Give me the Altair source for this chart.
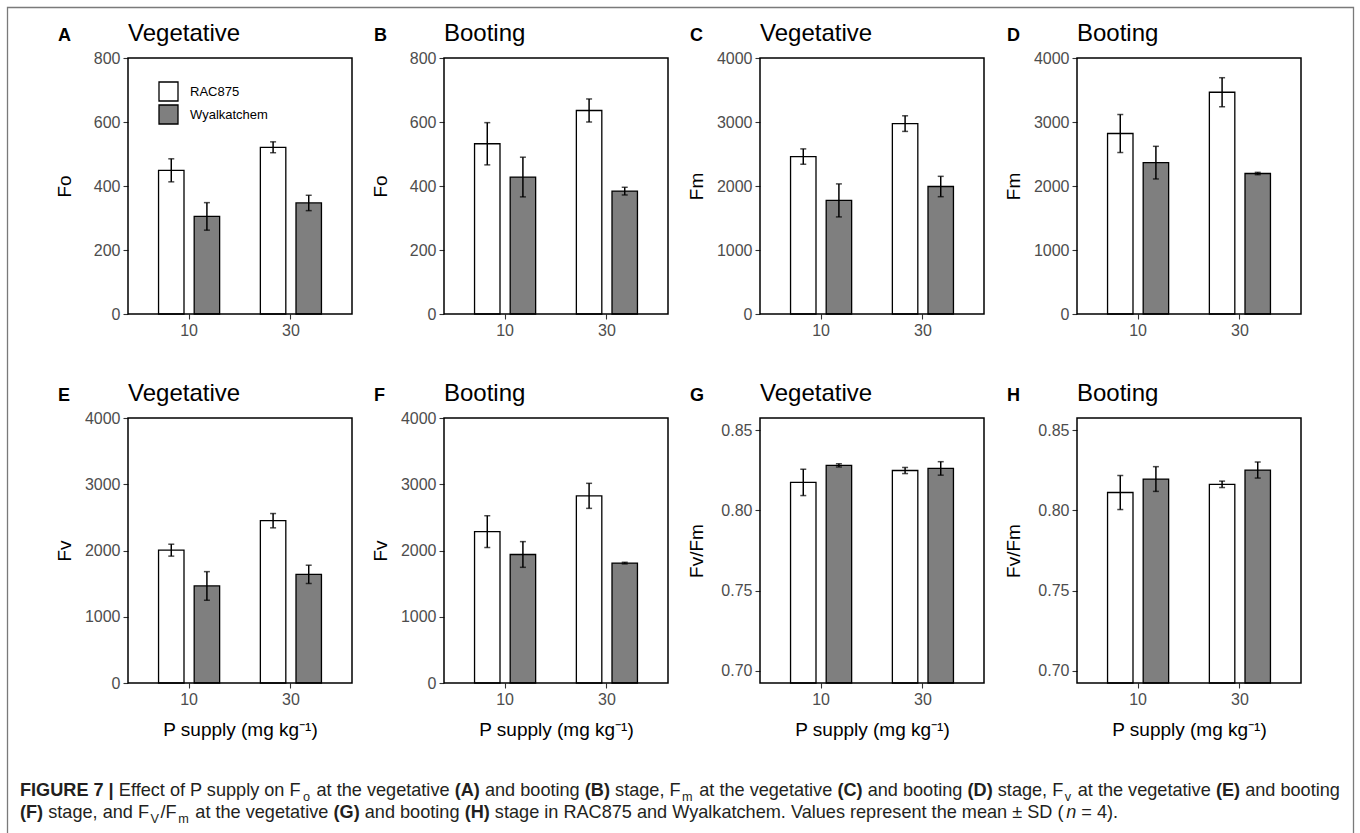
import altair as alt
import pandas as pd

# ---------------------------------------------------------------- data
supply = ["10", "30"]
cultivars = ["RAC875", "Wyalkatchem"]
panel_letters = ["A", "B", "C", "D", "E", "F", "G", "H"]
stages = ["Vegetative", "Booting", "Vegetative", "Booting",
          "Vegetative", "Booting", "Vegetative", "Booting"]
traits = ["Fo", "Fo", "Fm", "Fm", "Fv", "Fv", "Fv/Fm", "Fv/Fm"]

# value order in every list: RAC875@10, Wyalkatchem@10, RAC875@30, Wyalkatchem@30
fo_veg_mean = [449, 305, 521, 347]
fo_veg_sd = [36, 43, 17, 24]
fo_boot_mean = [532, 428, 636, 384]
fo_boot_sd = [66, 62, 36, 12]
fm_veg_mean = [2460, 1775, 2975, 1992]
fm_veg_sd = [120, 258, 122, 159]
fm_boot_mean = [2820, 2365, 3465, 2195]
fm_boot_sd = [297, 255, 227, 18]
fv_veg_mean = [2005, 1465, 2450, 1640]
fv_veg_sd = [90, 216, 108, 138]
fv_boot_mean = [2285, 1940, 2825, 1810]
fv_boot_sd = [240, 194, 189, 12]
fvfm_veg_mean = [0.8174, 0.8280, 0.8248, 0.8261]
fvfm_veg_sd = [0.0082, 0.0010, 0.0019, 0.0042]
fvfm_boot_mean = [0.8111, 0.8195, 0.8162, 0.8251]
fvfm_boot_sd = [0.0106, 0.0077, 0.0020, 0.0050]

means = [fo_veg_mean, fo_boot_mean, fm_veg_mean, fm_boot_mean,
         fv_veg_mean, fv_boot_mean, fvfm_veg_mean, fvfm_boot_mean]
sds = [fo_veg_sd, fo_boot_sd, fm_veg_sd, fm_boot_sd,
       fv_veg_sd, fv_boot_sd, fvfm_veg_sd, fvfm_boot_sd]

fo_ticks = [0, 200, 400, 600, 800]
f_ticks = [0, 1000, 2000, 3000, 4000]
ratio_ticks = [0.70, 0.75, 0.80, 0.85]
y_ticks = [fo_ticks, fo_ticks, f_ticks, f_ticks, f_ticks, f_ticks, ratio_ticks, ratio_ticks]
# ratio panels: 0.70-0.85 plus 5 % expansion on both ends
y_domains = [[0, 800], [0, 800], [0, 4000], [0, 4000],
             [0, 4000], [0, 4000], [0.6925, 0.8575], [0.6925, 0.8575]]
y_formats = ["d", "d", "d", "d", "d", "d", ".2f", ".2f"]

x_title = "P supply (mg kg\u207b\u00b9)"

caption_lines = [
    [("FIGURE 7 |", "b"), (" Effect of P supply on F", "r"), ("o", "sub"),
     (" at the vegetative ", "r"), ("(A)", "b"), (" and booting ", "r"), ("(B)", "b"),
     (" stage, F", "r"), ("m", "sub"), (" at the vegetative ", "r"), ("(C)", "b"),
     (" and booting ", "r"), ("(D)", "b"), (" stage, F", "r"), ("v", "sub"),
     (" at the vegetative ", "r"), ("(E)", "b"), (" and booting", "r")],
    [("(F)", "b"), (" stage, and F", "r"), ("V", "sub"), ("/F", "r"), ("m", "sub"),
     (" at the vegetative ", "r"), ("(G)", "b"), (" and booting ", "r"), ("(H)", "b"),
     (" stage in RAC875 and Wyalkatchem. Values represent the mean \u00b1 SD (", "r"),
     ("n", "i"), (" = 4).", "r")],
]

# ---------------------------------------------------------------- layout
FONT = "Liberation Sans"
VIEW_W, VIEW_H = 1360, 833
PANEL_LEFT = [128, 444, 760, 1077]
PANEL_W = 224
ROW_TOP = [58, 418]
ROW_H = [256, 265]
TITLE_BASE = [41, 401]
CAP_LEFT, CAP_RIGHT = 20, 1340
CAP_BASE = [796, 818]
SUB_SCALE, SUB_DROP, SUB_GAP = 0.7, 0.25, 1.5

# Arial / Liberation Sans advance widths (1/1000 em)
W_REG = {' ': 278, '(': 333, ')': 333, ',': 278, '.': 278, '/': 278, '4': 556, '5': 556,
         '7': 556, '8': 556, '=': 584, '\u00b1': 584, 'A': 667, 'C': 722, 'D': 722,
         'E': 667, 'F': 611, 'P': 667, 'R': 722, 'S': 667, 'V': 667, 'W': 944,
         'a': 556, 'b': 556, 'c': 500, 'd': 556, 'e': 556, 'f': 278, 'g': 556, 'h': 556,
         'i': 222, 'k': 500, 'l': 222, 'm': 833, 'n': 556, 'o': 556, 'p': 556, 'r': 333,
         's': 500, 't': 278, 'u': 556, 'v': 500, 'y': 500}
W_BOLD = {' ': 278, '(': 333, ')': 333, '|': 280, '7': 556, 'A': 722, 'B': 722, 'C': 722,
          'D': 722, 'E': 667, 'F': 611, 'G': 778, 'H': 722, 'I': 278, 'R': 722, 'U': 722}


def em_width(text, style):
    table = W_BOLD if style == "b" else W_REG
    w = sum(table.get(ch, 556) for ch in text) / 1000.0
    return w * (SUB_SCALE if style == "sub" else 1.0)


n_subs = sum(1 for _, s in caption_lines[0] if s == "sub")
line_em = sum(em_width(t, s) for t, s in caption_lines[0])
CAP_FS = (CAP_RIGHT - CAP_LEFT - 2 * SUB_GAP * n_subs) / line_em

cap_rows = {"r": [], "b": [], "i": [], "sub": []}
for li, line in enumerate(caption_lines):
    cx = CAP_LEFT
    for text, style in line:
        if style == "sub":
            cx += SUB_GAP
        stripped = text.lstrip(" ")
        lead = em_width(text[: len(text) - len(stripped)], style) * CAP_FS
        fs = CAP_FS * (SUB_SCALE if style == "sub" else 1.0)
        py = CAP_BASE[li] + (SUB_DROP * CAP_FS if style == "sub" else 0)
        if stripped.strip():
            cap_rows[style].append({"text": stripped.rstrip(" "), "px": cx + lead,
                                    "py": py, "fs": fs})
        cx += em_width(text, style) * CAP_FS
        if style == "sub":
            cx += SUB_GAP


def text_layer(rows, weight="normal", style="normal", color="black"):
    return alt.Chart(pd.DataFrame(rows)).mark_text(
        align="left", baseline="alphabetic", font=FONT, fontWeight=weight,
        fontStyle=style, color=color
    ).encode(
        x=alt.X("px:Q", scale=None, axis=None),
        y=alt.Y("py:Q", scale=None, axis=None),
        text="text:N",
        size=alt.Size("fs:Q", scale=None),
    )


fill_enc = alt.Fill(
    "cultivar:N",
    scale=alt.Scale(domain=cultivars, range=["#ffffff", "#7f7f7f"]),
    legend=alt.Legend(
        orient="none", legendX=158, legendY=81, title=None, padding=0,
        symbolType="square", symbolSize=361, symbolStrokeColor="black",
        symbolStrokeWidth=1.3, labelFont=FONT, labelFontSize=13, labelColor="black",
        labelOffset=11, rowPadding=-2,
    ),
)


def panel(k):
    row, col = divmod(k, 4)
    left = PANEL_LEFT[col]
    right = left + PANEL_W
    top = ROW_TOP[row]
    bottom = top + ROW_H[row]
    df = pd.DataFrame({
        "supply": [s for s in supply for _ in cultivars],
        "cultivar": cultivars * len(supply),
        "mean": means[k],
        "sd": sds[k],
    })
    ylo, yhi = y_domains[k]
    xs = alt.Scale(domain=supply, range=[left, right], paddingInner=0, paddingOuter=0.1)
    offs = alt.Scale(domain=cultivars, paddingInner=2 / 7, paddingOuter=4 / 7)
    ys = alt.Scale(domain=[ylo, yhi], range=[bottom, top], nice=False, zero=False, clamp=True)
    xaxis = alt.Axis(
        orient="bottom", offset=bottom - VIEW_H, domain=False, grid=False,
        tickSize=5, tickWidth=1.1, tickColor="#333333", labelAngle=0,
        labelFont=FONT, labelFontSize=16, labelColor="#4d4d4d", labelPadding=3,
        title=x_title if row == 1 else "", titleFont=FONT, titleFontSize=19,
        titleFontWeight="normal", titleColor="black", titlePadding=13,
    )
    yaxis = alt.Axis(
        orient="left", offset=-left, values=y_ticks[k], format=y_formats[k],
        domain=False, grid=False, tickSize=5, tickWidth=1.1, tickColor="#333333",
        labelFont=FONT, labelFontSize=16, labelColor="#4d4d4d", labelPadding=3,
        title=traits[k], titleFont=FONT, titleFontSize=19, titleFontWeight="normal",
        titleColor="black", titleX=-64, titleBaseline="middle", titleAngle=270,
    )
    x = alt.X("supply:N", scale=xs, axis=xaxis, sort=supply)
    xo = alt.XOffset("cultivar:N", scale=offs, sort=cultivars)
    base = alt.Chart(df).transform_calculate(
        lo="datum.mean - datum.sd", hi="datum.mean + datum.sd")

    bars = base.mark_bar(stroke="black", strokeWidth=1.3).encode(
        x=x, xOffset=xo,
        y=alt.Y("mean:Q", scale=ys, axis=yaxis),
        y2=alt.datum(ylo),
        fill=fill_enc,
    )
    stems = base.mark_rule(color="black", strokeWidth=1.5).encode(
        x=x, xOffset=xo,
        y=alt.Y("lo:Q", scale=ys, axis=yaxis),
        y2="hi:Q",
    )
    caps_lo = base.mark_tick(orient="horizontal", size=6, thickness=1.5, color="black").encode(
        x=x, xOffset=xo, y=alt.Y("lo:Q", scale=ys, axis=yaxis))
    caps_hi = base.mark_tick(orient="horizontal", size=6, thickness=1.5, color="black").encode(
        x=x, xOffset=xo, y=alt.Y("hi:Q", scale=ys, axis=yaxis))
    frame = alt.Chart(pd.DataFrame({"f": [0]})).mark_rect(
        fillOpacity=0, stroke="black", strokeWidth=1.5
    ).encode(
        x=alt.value(left), x2=alt.value(right), y=alt.value(top), y2=alt.value(bottom))
    return alt.layer(bars, stems, caps_lo, caps_hi, frame)


panels = [panel(k) for k in range(8)]

# panel letters and stage titles
letter_rows, title_rows = [], []
for k in range(8):
    row, col = divmod(k, 4)
    letter_rows.append({"text": panel_letters[k], "px": PANEL_LEFT[col] - 70,
                        "py": TITLE_BASE[row], "fs": 18})
    title_rows.append({"text": stages[k], "px": PANEL_LEFT[col],
                       "py": TITLE_BASE[row], "fs": 24})

outer = alt.Chart(pd.DataFrame({"f": [0]})).mark_rect(
    fillOpacity=0, stroke="#7a7a7a", strokeWidth=1.3
).encode(x=alt.value(7.5), x2=alt.value(1353.5), y=alt.value(7.5), y2=alt.value(880))

cap_color = "#231f20"
layers = panels + [
    text_layer(letter_rows, weight="bold"),
    text_layer(title_rows),
    text_layer(cap_rows["r"], color=cap_color),
    text_layer(cap_rows["b"], weight="bold", color=cap_color),
    text_layer(cap_rows["i"], style="italic", color=cap_color),
    text_layer(cap_rows["sub"], color=cap_color),
    outer,
]

chart = alt.layer(*layers).resolve_scale(
    x="independent", y="independent", xOffset="independent"
).properties(
    width=VIEW_W, height=VIEW_H, autosize="none", padding=0, background="white"
).configure_view(strokeWidth=0)

chart.save("out.html", embed_options={"renderer": "svg", "actions": False})
